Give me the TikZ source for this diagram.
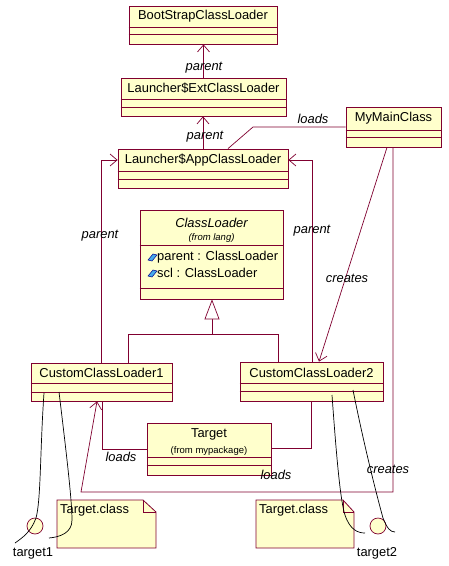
\documentclass[tikz,border=0pt]{standalone}
\usepackage{fontspec}
\setmainfont{Liberation Sans}
\usetikzlibrary{arrows.meta}
\definecolor{umlred}{RGB}{128,0,48}
\definecolor{umlfill}{RGB}{255,255,204}
\definecolor{gemblue}{RGB}{70,170,235}
\tikzset{
  clsbox/.style={rectangle, draw=umlred, fill=umlfill, line width=0.8pt, inner sep=0pt},
  divline/.style={draw=umlred, line width=0.8pt},
  clsname/.style={font=\fontsize{12.9}{14}\selectfont, inner sep=0pt},
  fromtxt/.style={font=\fontsize{9.5}{11}\selectfont, inner sep=0pt},
  rolelbl/.style={font=\fontsize{12.9}{14}\selectfont\itshape, inner sep=0pt},
  assoc/.style={draw=umlred, line width=0.7pt},
  nav/.style={assoc, -{Straight Barb[length=7pt,width=12pt]}},
  handline/.style={draw=black, line width=0.7pt},
}
\begin{document}
\begin{tikzpicture}[x=1pt,y=-1pt]
\useasboundingbox[fill=white] (0,0) rectangle (449,566);

% class boxes
\node[clsbox, minimum width=148, minimum height=38] (boot) at (203,25) {};
\node[clsbox, minimum width=165, minimum height=38] (ext) at (203.5,97) {};
\node[clsbox, minimum width=170, minimum height=39] (app) at (203,168.5) {};
\node[clsbox, minimum width=95, minimum height=40] (my) at (393.5,127) {};
\node[clsbox, minimum width=143, minimum height=89] (cl) at (211.5,254.5) {};
\node[clsbox, minimum width=141, minimum height=38] (ccl1) at (101.5,382) {};
\node[clsbox, minimum width=143, minimum height=39] (ccl2) at (311.5,381.5) {};
\node[clsbox, minimum width=124, minimum height=52] (target) at (209,449) {};

\foreach \n/\a/\b in {boot/27/34, ext/99/107, app/171/179, my/130/137, cl/245/288,
  ccl1/383/392, ccl2/383/391, target/457/465}{
  \draw[divline] (\n.west |- 0,\a) -- (\n.east |- 0,\a);
  \draw[divline] (\n.west |- 0,\b) -- (\n.east |- 0,\b);
}

% names
\node[clsname] (boottxt) at (203,16.5) {BootStrapClassLoader};
\node[clsname] (exttxt) at (203.5,88.5) {Launcher\$ExtClassLoader};
\node[clsname] (apptxt) at (203,160) {Launcher\$AppClassLoader};
\node[clsname] (mytxt) at (393.5,118.5) {MyMainClass};
\node[clsname, font=\fontsize{12.9}{14}\selectfont\itshape] (cltxt) at (211.5,223) {ClassLoader};
\node[fromtxt, font=\fontsize{9.5}{11}\selectfont\itshape] (clfrom) at (211.5,238) {(from lang)};
\node[clsname] (ccl1txt) at (101.5,373) {CustomClassLoader1};
\node[clsname] (ccl2txt) at (311.5,372.5) {CustomClassLoader2};
\node[clsname] (targettxt) at (209,434) {Target};
\node[fromtxt] (targetfrom) at (209,451) {(from mypackage)};

% attributes
\foreach \y/\t in {257/parent, 273/scl}{
  \draw[fill=gemblue, draw=blue!55!black, line width=0.5pt]
    (148,\y+3) -- (153,\y-3) -- (157,\y-2) -- (152,\y+4) -- cycle;
  \node[clsname, anchor=west] (attr\t) at (157,\y) {\t\ : ClassLoader};
}

% parent links
\draw[nav] (ext.north) -- (ext.north |- boot.south);
\node[rolelbl] (par1) at (204,68) {parent};
\draw[nav] (app.north) -- (app.north |- ext.south);
\node[rolelbl] (par2) at (205,137) {parent};
\draw[nav] (101,0 |- ccl1.north) -- (101,160) -- (app.west |- 0,160);
\node[rolelbl] (par3) at (100,236) {parent};
\draw[nav] (312,0 |- ccl2.north) -- (312,160) -- (app.east |- 0,160);
\node[rolelbl] (par4) at (312,231) {parent};

% loads / creates
\coordinate (loadbend) at (253,127);
\draw[assoc] (228,0 |- app.north) -- (loadbend) -- (my.west |- loadbend);
\node[rolelbl] (loads1) at (313,119) {loads};
\draw[nav] (387,0 |- my.south) -- (319,0 |- ccl2.north);
\node[rolelbl] (creates1) at (347,278) {creates};
\draw[nav] (393,0 |- my.south) -- (393,492) -- (81,492) -- (97,0 |- ccl1.south);
\node[rolelbl] (loads2) at (276,475) {loads};
\draw[assoc] (102,0 |- ccl1.south) -- (102,449) -- (target.west |- 0,449);
\node[rolelbl] (loads3) at (121,457) {loads};
\draw[assoc] (311,0 |- ccl2.south) -- (311,448) -- (target.east |- 0,448);

% inheritance
\draw[assoc] (128,0 |- ccl1.north) -- (128,334) -- (278,334) -- (278,0 |- ccl2.north);
\draw[assoc, -{Triangle[open, length=20pt, width=15pt, fill=white]}] (212,334) -- (212,0 |- cl.south);

% notes
\draw[divline, fill=umlfill] (57,500) -- (143,500) -- (156,512) -- (156,548) -- (57,548) -- cycle;
\draw[divline] (143,500) -- (143,512) -- (156,512);
\node[clsname, anchor=west] (note1) at (60,510) {Target.class};
\draw[divline, fill=umlfill] (256,500) -- (343,500) -- (354,512) -- (354,548) -- (256,548) -- cycle;
\draw[divline] (343,500) -- (343,512) -- (354,512);
\node[clsname, anchor=west] (note2) at (259,510) {Target.class};

% objects
\node[circle, draw=umlred, fill=umlfill, line width=0.7pt, minimum size=16, inner sep=0pt] (t1) at (35,526) {};
\node[clsname] (t1lbl) at (33,553) {target1};
\node[circle, draw=umlred, fill=umlfill, line width=0.7pt, minimum size=16, inner sep=0pt] (t2) at (378,526) {};
\node[clsname] (t2lbl) at (377,553) {target2};

% hand drawn links
\draw[handline] (44,393) .. controls (40,450) and (41,500) .. (36,518) .. controls (31,532) and (22,538) .. (15,543);
\draw[handline] (59,392) .. controls (66,450) and (72,500) .. (72,520) .. controls (72,533) and (60,537) .. (49,538);
\draw[handline] (332,395) .. controls (336,450) and (340,500) .. (345,515) .. controls (350,530) and (358,533) .. (365,533);
\draw[handline] (353,390) .. controls (365,450) and (378,500) .. (383,518) .. controls (387,528) and (390,532) .. (395,532);
\node[rolelbl] (creates2) at (388,469) {creates};
\end{tikzpicture}
\end{document}
